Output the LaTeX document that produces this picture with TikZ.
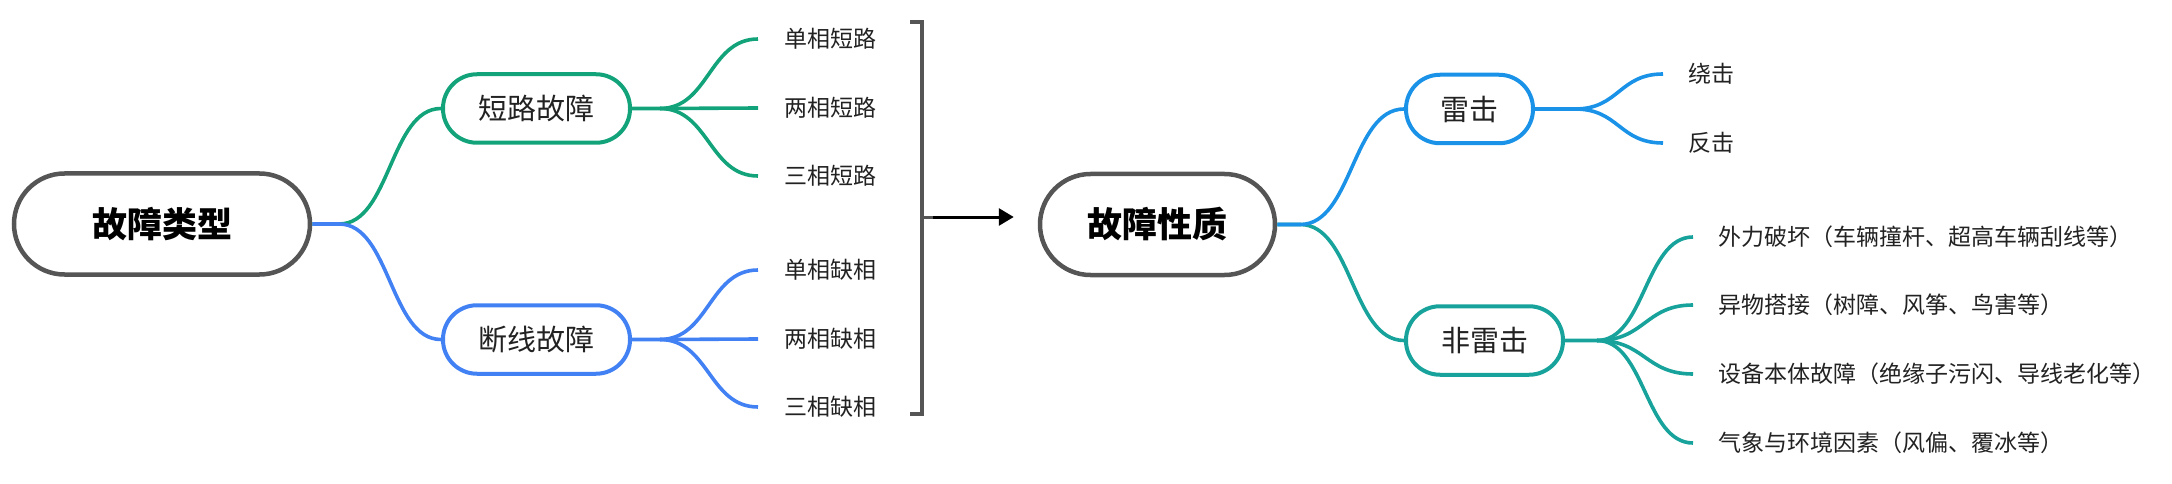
\documentclass[tikz,border=0pt]{standalone}
\usepackage{fontspec}
\setmainfont{Noto Sans CJK SC}
\usetikzlibrary{arrows.meta}
\definecolor{cgreen}{HTML}{12A37A}
\definecolor{cblueb}{HTML}{4281F4}
\definecolor{cblue}{HTML}{1A92E8}
\definecolor{cteal}{HTML}{17A39B}
\definecolor{cgray}{HTML}{555555}
\definecolor{ctext}{HTML}{222222}
\begin{document}
\begin{tikzpicture}[x=1pt,y=-1pt,
  bigbox/.style={draw=cgray, line width=4.5pt, rectangle, rounded corners=50.5pt,
    minimum height=101pt, inner sep=0pt, font=\fontsize{35pt}{40pt}\selectfont\bfseries},
  midbox/.style={line width=4pt, rectangle, rounded corners=34pt,
    minimum height=68.5pt, inner sep=0pt, font=\fontsize{29pt}{34pt}\selectfont, text=ctext},
  leaf/.style={anchor=west, inner xsep=26pt, inner ysep=0pt,
    font=\fontsize{23pt}{27pt}\selectfont, text=ctext},
  conn/.style={line width=3.6pt},
]
\useasboundingbox (0,0) rectangle (2172,484);

% ---- left tree ----
\node[bigbox, minimum width=296pt] (root) at (162,224) {故障类型};
\node[midbox, draw=cgreen, minimum width=187pt] (dl) at (536.5,108.5) {短路故障};
\node[midbox, draw=cblueb, minimum width=187pt] (dx) at (536.5,339.5) {断线故障};

\node[leaf] (l1) at (758,39) {单相短路};
\node[leaf] (l2) at (758,108) {两相短路};
\node[leaf] (l3) at (758,176) {三相短路};
\node[leaf] (l4) at (758,270) {单相缺相};
\node[leaf] (l5) at (758,339) {两相缺相};
\node[leaf] (l6) at (758,407) {三相缺相};

\draw[conn, cgreen] (root.east) -- ++(27,0) coordinate (rf)
  .. controls +(51,0) and +(-51,0) .. (dl.west);
\draw[conn, cblueb] (root.east) -- (rf)
  .. controls +(51,0) and +(-51,0) .. (dx.west);

\draw[conn, cgreen] (dl.east) -- ++(28,0) coordinate (df1)
  .. controls +(49,0) and +(-49,0) .. (l1.west);
\draw[conn, cgreen] (df1) -- (l2.west);
\draw[conn, cgreen] (df1) .. controls +(49,0) and +(-49,0) .. (l3.west);

\draw[conn, cblueb] (dx.east) -- ++(28,0) coordinate (df2)
  .. controls +(49,0) and +(-49,0) .. (l4.west);
\draw[conn, cblueb] (df2) -- (l5.west);
\draw[conn, cblueb] (df2) .. controls +(49,0) and +(-49,0) .. (l6.west);

% ---- bracket and arrow ----
\coordinate (bt) at (910,22);
\coordinate (bb) at (910,414);
\coordinate (bm) at (922,217);
\draw[cgray, line width=4pt] (bt) -- (922,22) -- (922,414) -- (bb);
\draw[cgray, line width=3pt] (bm) -- ++(11,0) coordinate (bs);

% ---- right tree ----
\node[bigbox, minimum width=235pt] (prop) at (1157.5,224.5) {故障性质};
\draw[line width=3pt, -{Triangle[length=15pt,width=17pt]}, shorten >=24pt] (bs) -- (prop.west |- bs);

\node[midbox, draw=cblue, minimum width=127pt] (lj) at (1469.5,109) {雷击};
\node[midbox, draw=cteal, minimum width=157pt] (flj) at (1484.5,340.5) {非雷击};

\node[leaf, inner xsep=25pt] (r1) at (1663,74) {绕击};
\node[leaf, inner xsep=25pt] (r2) at (1663,143) {反击};
\node[leaf, inner xsep=25pt] (n1) at (1693,237) {外力破坏（车辆撞杆、超高车辆刮线等）};
\node[leaf, inner xsep=25pt] (n2) at (1693,305) {异物搭接（树障、风筝、鸟害等）};
\node[leaf, inner xsep=25pt] (n3) at (1693,374) {设备本体故障（绝缘子污闪、导线老化等）};
\node[leaf, inner xsep=25pt] (n4) at (1693,443) {气象与环境因素（风偏、覆冰等）};

\draw[conn, cteal] (prop.east) -- ++(23,0) coordinate (pf)
  .. controls +(52,0) and +(-52,0) .. (flj.west);
\draw[conn, cblue] (prop.east) -- (pf)
  .. controls +(52,0) and +(-52,0) .. (lj.west);

\draw[conn, cblue] (lj.east) -- ++(40,0) coordinate (lf)
  .. controls +(44,0) and +(-44,0) .. (r1.west);
\draw[conn, cblue] (lf) .. controls +(44,0) and +(-44,0) .. (r2.west);

\draw[conn, cteal] (flj.east) -- ++(32,0) coordinate (ff)
  .. controls +(48,0) and +(-48,0) .. (n1.west);
\draw[conn, cteal] (ff) .. controls +(48,0) and +(-48,0) .. (n2.west);
\draw[conn, cteal] (ff) .. controls +(48,0) and +(-48,0) .. (n3.west);
\draw[conn, cteal] (ff) .. controls +(48,0) and +(-48,0) .. (n4.west);
\end{tikzpicture}
\end{document}
